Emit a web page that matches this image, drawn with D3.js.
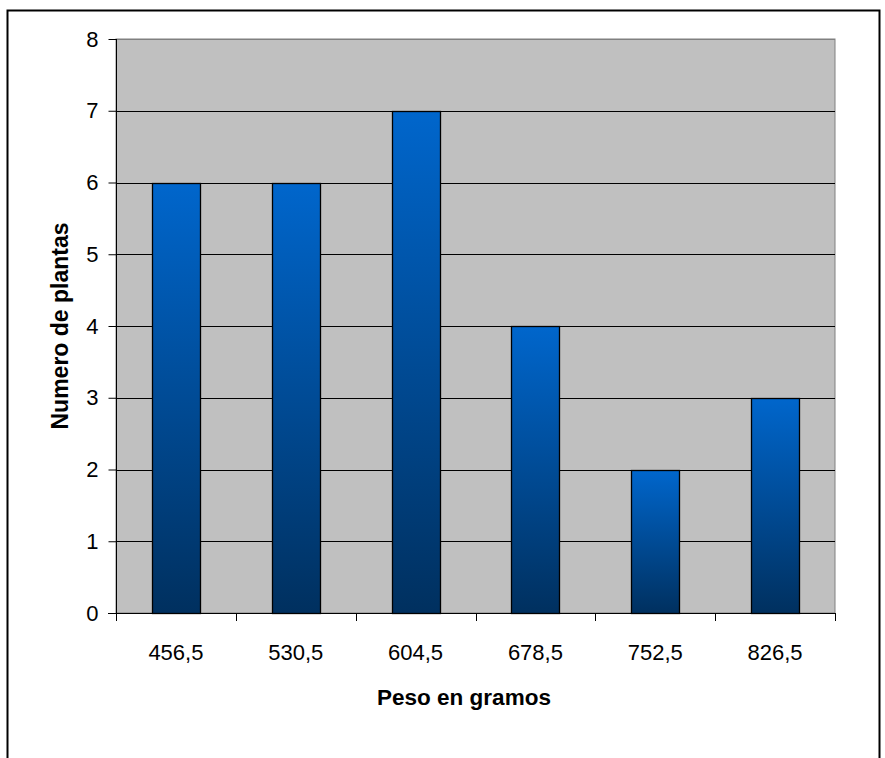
<!DOCTYPE html>
<html><head><meta charset="utf-8">
<script src="https://cdn.jsdelivr.net/npm/d3@7"></script>
<style>body{margin:0;background:#fff}svg{display:block}text{font-family:"Liberation Sans",Arial,sans-serif}</style>
</head><body>
<script>
const categories = ["456,5","530,5","604,5","678,5","752,5","826,5"];
const values = [6,6,7,4,2,3];
const yTicks = [0,1,2,3,4,5,6,7,8];
const xTitle = "Peso en gramos";
const yTitle = "Numero de plantas";

const W=885,H=758;
const svg=d3.select("body").append("svg").attr("width",W).attr("height",H);
svg.append("rect").attr("x",7.5).attr("y",10.5).attr("width",872).attr("height",760).attr("fill","#fff").attr("stroke","#000").attr("stroke-width",2);

const L=116,R=835,T=39,B=613;
const x=d3.scaleBand().domain(categories).range([L,R]).paddingInner(0.6).paddingOuter(0.3);
const y=d3.scaleLinear().domain([0,8]).range([B,T]);

const defs=svg.append("defs");
const g=defs.append("linearGradient").attr("id","bg").attr("x1",0).attr("y1",0).attr("x2",0).attr("y2",1);
g.append("stop").attr("offset","0%").attr("stop-color","#0066CC");
g.append("stop").attr("offset","100%").attr("stop-color","#00305F");

svg.append("rect").attr("x",L).attr("y",T).attr("width",R-L).attr("height",B-T).attr("fill","#C0C0C0").attr("stroke","#808080").attr("stroke-width",1);

svg.append("g").selectAll("line").data(yTicks.filter(d=>d>0)).join("line")
 .attr("x1",L).attr("x2",R).attr("y1",d=>Math.round(y(d))+0.5).attr("y2",d=>Math.round(y(d))+0.5)
 .attr("stroke",d=>d===8?"#808080":"#000").attr("stroke-width",1);

svg.append("g").selectAll("rect").data(values).join("rect")
 .attr("x",(d,i)=>Math.round(x(categories[i]))+0.5).attr("width",Math.round(x.bandwidth()))
 .attr("y",d=>Math.round(y(d))+0.5).attr("height",d=>Math.round(y(0))-Math.round(y(d)))
 .attr("fill","url(#bg)").attr("stroke","#000").attr("stroke-width",1.3);

// y axis
const ya=d3.axisLeft(y).tickValues(yTicks).tickSize(8).tickPadding(10).tickFormat(d3.format("d"));
svg.append("g").attr("transform",`translate(${L+0.5},0)`).call(ya)
 .call(s=>{s.attr("font-size",null).attr("font-family",null);s.select(".domain").remove();
   s.selectAll("text").style("font-size","22px").attr("fill","#000");
   s.selectAll(".tick line").attr("stroke","#000");});
svg.append("line").attr("x1",L+0.5).attr("x2",L+0.5).attr("y1",T).attr("y2",B+1).attr("stroke","#000");

// x axis
svg.append("line").attr("x1",L-8).attr("x2",R).attr("y1",B+0.5).attr("y2",B+0.5).attr("stroke","#000");
const step=x.step();
const bounds=d3.range(categories.length+1).map(i=>L+i*step);
svg.append("g").selectAll("line").data(bounds).join("line")
 .attr("x1",d=>Math.round(d)+0.5).attr("x2",d=>Math.round(d)+0.5).attr("y1",B).attr("y2",B+8).attr("stroke","#000");
svg.append("g").selectAll("text").data(categories).join("text")
 .attr("x",d=>x(d)+x.bandwidth()/2).attr("y",660).attr("text-anchor","middle").style("font-size","22px").text(d=>d);

svg.append("text").attr("x",464).attr("y",705).attr("text-anchor","middle").style("font-size","22.5px").attr("font-weight","bold").text(xTitle);
svg.append("text").attr("transform","translate(68,326) rotate(-90)").attr("text-anchor","middle").style("font-size","23px").attr("font-weight","bold").text(yTitle);
</script>
</body></html>
